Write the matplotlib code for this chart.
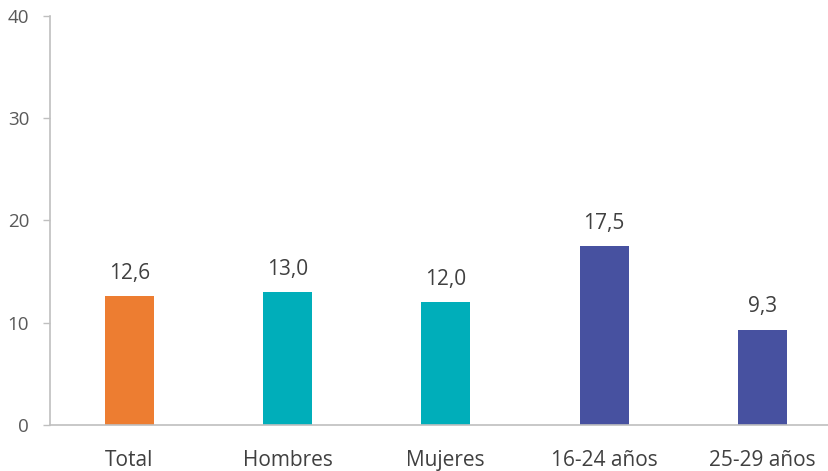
import matplotlib
matplotlib.use("Agg")
import matplotlib.pyplot as plt

categories = ["Total", "Hombres", "Mujeres", "16-24 años", "25-29 años"]
values = [12.6, 13.0, 12.0, 17.5, 9.3]
labels = ["12,6", "13,0", "12,0", "17,5", "9,3"]
colors = ["#ED7D31", "#00AEBA", "#00AEBA", "#4751A0", "#4751A0"]
yticks = [0, 10, 20, 30, 40]

plt.rcParams['font.family'] = ['Open Sans', 'DejaVu Sans']

fig = plt.figure(figsize=(8.29, 4.71), dpi=100)
ax = fig.add_axes([50/829, 46/471, 791.5/829, 409/471])

x = list(range(len(categories)))
bars = ax.bar(x, values, width=0.31, color=colors, zorder=2)
for xi, v, lab in zip(x, values, labels):
    ax.annotate(lab, (xi, v), xytext=(0, 9), textcoords="offset points",
                ha="center", va="bottom", fontsize=15, color="#404040")

ax.set_xlim(-0.5, 4.5)
ax.set_ylim(0, 40)
ax.set_yticks(yticks)
ax.set_xticks(x)
ax.set_xticklabels(categories)
ax.tick_params(axis="x", length=0, pad=18, labelsize=15, labelcolor="#404040")
ax.tick_params(axis="y", length=5, width=1, color="#BFBFBF", pad=10,
               labelsize=13.5, labelcolor="#595959")
for s in ["top", "right"]:
    ax.spines[s].set_visible(False)
for s in ["left", "bottom"]:
    ax.spines[s].set_color("#BFBFBF")
    ax.spines[s].set_linewidth(1.2)

fig.savefig("out.png", dpi=100)
